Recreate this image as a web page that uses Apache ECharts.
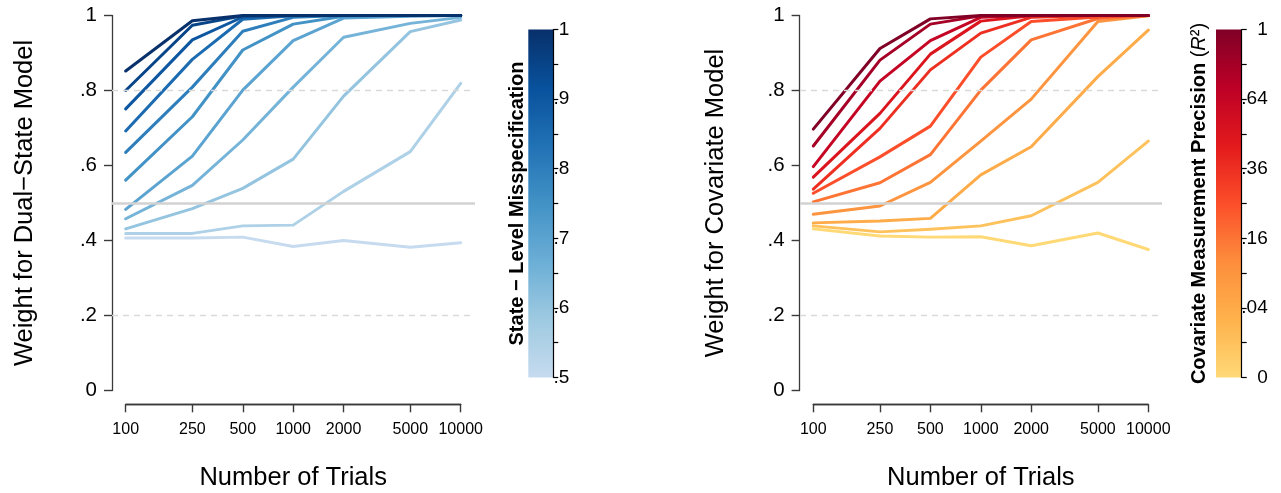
<!DOCTYPE html>
<html><head><meta charset="utf-8">
<script src="https://cdn.jsdelivr.net/npm/echarts@6/dist/echarts.min.js"></script>
<style>html,body{margin:0;padding:0;background:#fff}#c{width:1281px;height:493px}</style>
</head><body><div id="c"></div>
<script>
// ---------- data ----------
const trials = [100, 250, 500, 1000, 2000, 5000, 10000];
const xTickLabels = ['100', '250', '500', '1000', '2000', '5000', '10000'];
const yTickValues = [0, 0.2, 0.4, 0.6, 0.8, 1];
const yTickLabels = ['0', '.2', '.4', '.6', '.8', '1'];
const refDashed = [0.2, 0.8];
const refSolid = [0.5];

// Left panel: weight for dual-state model, by state-level misspecification
const misspecLevels = [0.5, 0.55, 0.6, 0.65, 0.7, 0.75, 0.8, 0.85, 0.9, 0.95, 1.0];
const dual_050 = [0.407, 0.407, 0.409, 0.384, 0.400, 0.382, 0.394];
const dual_055 = [0.419, 0.419, 0.439, 0.441, 0.531, 0.637, 0.819];
const dual_060 = [0.431, 0.485, 0.539, 0.617, 0.785, 0.957, 0.988];
const dual_065 = [0.458, 0.547, 0.668, 0.809, 0.942, 0.979, 0.995];
const dual_070 = [0.483, 0.625, 0.801, 0.933, 0.993, 0.998, 1.0];
const dual_075 = [0.561, 0.730, 0.908, 0.977, 0.998, 1.0, 1.0];
const dual_080 = [0.635, 0.809, 0.958, 0.995, 1.0, 1.0, 1.0];
const dual_085 = [0.692, 0.883, 0.990, 0.999, 1.0, 1.0, 1.0];
const dual_090 = [0.751, 0.935, 0.996, 1.0, 1.0, 1.0, 1.0];
const dual_095 = [0.800, 0.974, 0.999, 1.0, 1.0, 1.0, 1.0];
const dual_100 = [0.852, 0.986, 1.0, 1.0, 1.0, 1.0, 1.0];
const dualSeries = [dual_050, dual_055, dual_060, dual_065, dual_070, dual_075, dual_080, dual_085, dual_090, dual_095, dual_100];

// Right panel: weight for covariate model, by measurement precision (R)
const precisionLevels = [0, 0.1, 0.2, 0.3, 0.4, 0.5, 0.6, 0.7, 0.8, 0.9, 1.0];
const cov_00 = [0.431, 0.412, 0.409, 0.410, 0.386, 0.420, 0.376];
const cov_01 = [0.439, 0.423, 0.430, 0.439, 0.466, 0.555, 0.665];
const cov_02 = [0.447, 0.452, 0.459, 0.575, 0.650, 0.837, 0.961];
const cov_03 = [0.470, 0.492, 0.555, 0.665, 0.777, 0.984, 0.999];
const cov_04 = [0.503, 0.554, 0.629, 0.801, 0.935, 0.992, 1.0];
const cov_05 = [0.526, 0.623, 0.705, 0.889, 0.984, 0.996, 1.0];
const cov_06 = [0.537, 0.699, 0.855, 0.953, 0.995, 1.0, 1.0];
const cov_07 = [0.569, 0.739, 0.897, 0.985, 0.999, 1.0, 1.0];
const cov_08 = [0.597, 0.825, 0.933, 0.995, 1.0, 1.0, 1.0];
const cov_09 = [0.652, 0.881, 0.977, 0.999, 1.0, 1.0, 1.0];
const cov_10 = [0.697, 0.912, 0.991, 1.0, 1.0, 1.0, 1.0];
const covSeries = [cov_00, cov_01, cov_02, cov_03, cov_04, cov_05, cov_06, cov_07, cov_08, cov_09, cov_10];

// Colour bars
const leftBarRange = [0.5, 1.0];
const leftBarTicks = [0.5, 0.55, 0.6, 0.65, 0.7, 0.75, 0.8, 0.85, 0.9, 0.95, 1.0];
const leftBarLabelValues = [0.5, 0.6, 0.7, 0.8, 0.9, 1.0];
const leftBarLabels = ['.5', '.6', '.7', '.8', '.9', '1'];
const rightBarRange = [0, 1.0];
const rightBarTicks = [0, 0.1, 0.2, 0.3, 0.4, 0.5, 0.6, 0.7, 0.8, 0.9, 1.0];
const rightBarLabelValues = [0, 0.2, 0.4, 0.6, 0.8, 1.0];
const rightBarLabels = ['0', '.04', '.16', '.36', '.64', '1'];

// ---------- styling ----------
const FONT = '"Liberation Sans", Arial, Helvetica, sans-serif';
const AXIS_COLOR = '#3a3a3a';
const blues = ['#C6DBEF', '#9ECAE1', '#6BAED6', '#4292C6', '#2171B5', '#08519C', '#08306B'];
const ylorrd = ['#FED976', '#FEB24C', '#FD8D3C', '#FC4E2A', '#E31A1C', '#BD0026', '#800026'];

function hex2rgb(h) { return [1, 3, 5].map(i => parseInt(h.substr(i, 2), 16)); }
function ramp(stops, t) {
  const n = stops.length - 1, p = Math.max(0, Math.min(1, t)) * n;
  const i = Math.min(Math.floor(p), n - 1), f = p - i;
  const a = hex2rgb(stops[i]), b = hex2rgb(stops[i + 1]);
  return 'rgb(' + a.map((v, k) => Math.round(v + (b[k] - v) * f)).join(',') + ')';
}
function gradStops(stops) { return stops.map((c, i) => ({ offset: i / (stops.length - 1), color: c })); }
function lookup(vals, labels) {
  return v => { const i = vals.findIndex(t => Math.abs(t - v) < 1e-6 * Math.max(1, Math.abs(t))); return i >= 0 ? labels[i] : ''; };
}

const PLOT_TOP = 15.5, PLOT_H = 375;
const panels = [
  { dataLeft: 125.7, bgLeft: 112, bgW: 363, barLeft: 528.3, barW: 25, barLabelMargin: 16, barNameGap: 1, yNameGap: 74,
    yName: 'Weight for Dual\u2212State Model',
    barName: 'State \u2212 Level Misspecification', barRich: false,
    levels: misspecLevels, series: dualSeries, palette: blues,
    toT: v => (v - 0.5) / 0.5,
    barRange: leftBarRange, barTicks: leftBarTicks, barLabelValues: leftBarLabelValues, barLabels: leftBarLabels },
  { dataLeft: 813.3, bgLeft: 800, bgW: 362, barLeft: 1216, barW: 25.7, barLabelMargin: 26, barNameGap: 7, yNameGap: 71,
    yName: 'Weight for Covariate Model',
    barName: '{b|Covariate Measurement Precision }{n|(}{i|R}{n|\u00B2)}', barRich: true,
    levels: precisionLevels, series: covSeries, palette: ylorrd,
    toT: v => v,
    barRange: rightBarRange, barTicks: rightBarTicks, barLabelValues: rightBarLabelValues, barLabels: rightBarLabels }
];

const grid = [], xAxis = [], yAxis = [], series = [];
panels.forEach(P => {
  const gData = grid.length;
  grid.push({ left: P.dataLeft, top: PLOT_TOP, width: 335, height: PLOT_H, outerBoundsMode: 'none', containLabel: false });
  const gBg = grid.length;
  grid.push({ left: P.bgLeft, top: PLOT_TOP, width: P.bgW, height: PLOT_H, outerBoundsMode: 'none', containLabel: false });
  const gBar = grid.length;
  grid.push({ left: P.barLeft, top: 29.5, width: P.barW, height: 348, outerBoundsMode: 'none', containLabel: false });

  // data axes
  const xData = xAxis.length;
  xAxis.push({
    gridIndex: gData, type: 'log', logBase: 10, min: 100, max: 10000, offset: 13.8, position: 'bottom',
    axisLine: { show: true, onZero: false, lineStyle: { color: AXIS_COLOR, width: 1.3 } },
    axisTick: { show: true, length: 8, customValues: trials, lineStyle: { color: AXIS_COLOR, width: 1.4 } },
    axisLabel: { show: true, customValues: trials, formatter: lookup(trials, xTickLabels),
      fontSize: 16, color: '#000', fontFamily: FONT, margin: 17 },
    splitLine: { show: false },
    name: 'Number of Trials', nameLocation: 'middle', nameGap: 61,
    nameTextStyle: { fontSize: 25.5, color: '#000', fontFamily: FONT }
  });
  // plain line along the trial range, drawn by a helper axis of the same grid
  xAxis.push({
    gridIndex: gData, type: 'value', min: 0, max: 1, offset: 13.8, position: 'bottom',
    axisLine: { show: true, onZero: false, lineStyle: { color: AXIS_COLOR, width: 1.3 } },
    axisTick: { show: false }, axisLabel: { show: false }, splitLine: { show: false }
  });
  const yData = yAxis.length;
  yAxis.push({
    gridIndex: gData, type: 'value', min: 0, max: 1, interval: 0.2, offset: 13.7,
    axisLine: { show: true, onZero: false, lineStyle: { color: AXIS_COLOR, width: 1.3 } },
    axisTick: { show: true, length: 8, lineStyle: { color: AXIS_COLOR, width: 1.4 } },
    axisLabel: { formatter: lookup(yTickValues, yTickLabels), fontSize: 20.5, color: '#000', fontFamily: FONT, margin: 15 },
    splitLine: { show: false },
    name: P.yName, nameLocation: 'middle', nameRotate: 90, nameGap: P.yNameGap,
    nameTextStyle: { fontSize: 25.5, color: '#000', fontFamily: FONT }
  });

  // background axes (reference lines)
  const xBg = xAxis.length;
  xAxis.push({ gridIndex: gBg, type: 'value', min: 0, max: 1, show: false });
  const yBg = yAxis.length;
  yAxis.push({ gridIndex: gBg, type: 'value', min: 0, max: 1, show: false });
  series.push({
    type: 'line', xAxisIndex: xBg, yAxisIndex: yBg, data: [], z: 1, silent: true,
    markLine: {
      silent: true, symbol: ['none', 'none'], label: { show: false }, animation: false,
      data: refDashed.map(v => ({ yAxis: v, lineStyle: { color: '#d9d9d9', width: 1.3, type: [6, 5] } }))
        .concat(refSolid.map(v => ({ yAxis: v, lineStyle: { color: '#d2d2d2', width: 2.5, type: 'solid' } })))
    }
  });

  // colour bar axes
  const xBar = xAxis.length;
  xAxis.push({ gridIndex: gBar, type: 'value', min: 0, max: 1, show: false });
  const yBar = yAxis.length;
  yAxis.push({
    gridIndex: gBar, type: 'value', position: 'right', min: P.barRange[0], max: P.barRange[1],
    axisLine: { show: true, onZero: false, lineStyle: { color: '#000', width: 1.2 } },
    axisTick: { show: true, length: 5, customValues: P.barTicks, lineStyle: { color: '#000', width: 1.2 } },
    axisLabel: { customValues: P.barLabelValues, formatter: lookup(P.barLabelValues, P.barLabels),
      align: 'right', margin: P.barLabelMargin, fontSize: 19, color: '#000', fontFamily: FONT },
    splitLine: { show: false }, z: 5
  });
  const nameStyle = P.barRich ? {
    rich: {
      b: { fontSize: 20, fontWeight: 'bold', color: '#000', fontFamily: FONT },
      n: { fontSize: 20, color: '#000', fontFamily: FONT },
      i: { fontSize: 20, fontStyle: 'italic', color: '#000', fontFamily: FONT }
    }
  } : { fontSize: 20, fontWeight: 'bold', color: '#000', fontFamily: FONT };
  yAxis.push({
    gridIndex: gBar, type: 'value', position: 'left', min: 0, max: 1,
    axisLine: { show: false }, axisTick: { show: false }, axisLabel: { show: false }, splitLine: { show: false },
    name: P.barName, nameLocation: 'middle', nameRotate: 90, nameGap: P.barNameGap, nameTextStyle: nameStyle
  });
  const stops = gradStops(P.palette);
  series.push({
    type: 'custom', xAxisIndex: xBar, yAxisIndex: yBar, silent: true, z: 1,
    data: [[P.barRange[0], P.barRange[1]]],
    encode: { x: -1, y: [0, 1] },
    renderItem: (params, api) => {
      const p0 = api.coord([0, api.value(0)]);
      const p1 = api.coord([1, api.value(1)]);
      return {
        type: 'rect',
        shape: { x: p0[0], y: p1[1], width: p1[0] - p0[0], height: p0[1] - p1[1] },
        style: { fill: new echarts.graphic.LinearGradient(0, 1, 0, 0, stops) }
      };
    }
  });

  // data lines (lightest first so darkest is on top)
  P.levels.forEach((lv, k) => {
    series.push({
      type: 'line', xAxisIndex: xData, yAxisIndex: yData, z: 3,
      data: trials.map((t, j) => [t, P.series[k][j]]),
      showSymbol: false, symbol: 'none', smooth: false, silent: true,
      lineStyle: { color: ramp(P.palette, P.toT(lv)), width: 3, cap: 'round', join: 'round' }
    });
  });
});

const chart = echarts.init(document.getElementById('c'), null, { renderer: 'canvas' });
chart.setOption({
  animation: false,
  backgroundColor: '#fff',
  textStyle: { fontFamily: FONT },
  grid, xAxis, yAxis, series
});
</script>
</body></html>
